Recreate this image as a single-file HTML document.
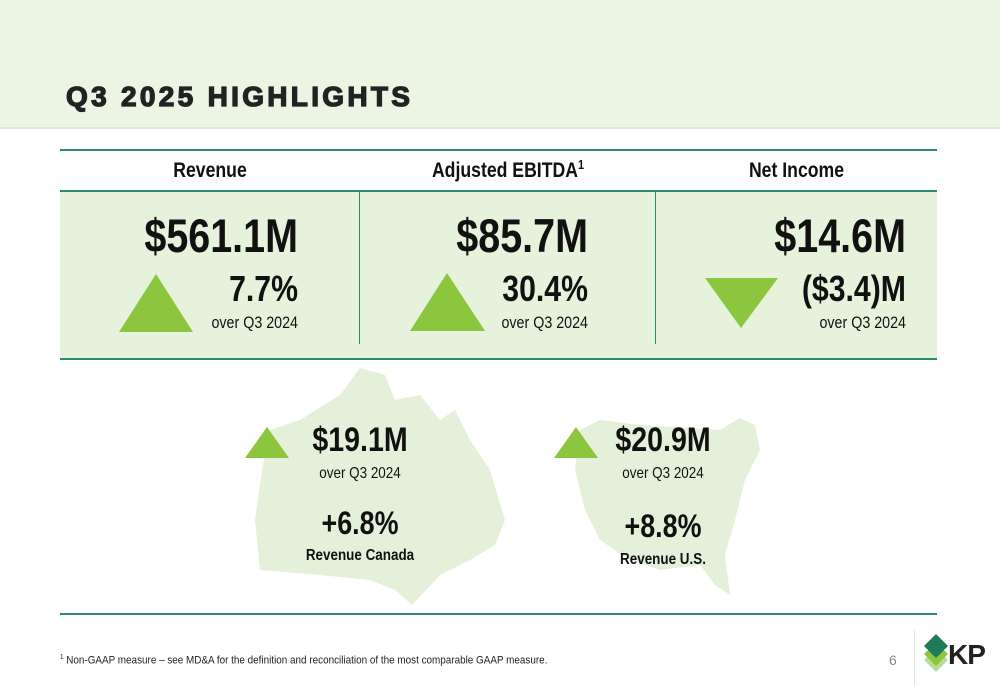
<!DOCTYPE html>
<html><head><meta charset="utf-8"><style>
body{margin:0;width:1000px;height:685px;overflow:hidden;background:#fff;font-family:"Liberation Sans",sans-serif;position:relative}
.a{position:absolute;white-space:nowrap;color:#111}
.b{font-weight:bold}
.r{text-align:right;transform:scaleX(0.84);transform-origin:right center}
.c{text-align:center;transform:scaleX(0.84);transform-origin:center center}
</style></head><body>
<div class="a" style="left:0;top:0;width:1000px;height:127px;background:#ecf5e4;border-bottom:2px solid #dfe8d6"></div>
<div class="a b" style="left:66px;top:81px;font-size:28px;letter-spacing:3.3px;color:#222;-webkit-text-stroke:1.3px #222">Q3 2025 HIGHLIGHTS</div>

<div class="a" style="left:60px;top:149px;width:877px;height:2px;background:#2e8b73"></div>
<div class="a b c" style="left:60px;top:159px;width:300px;font-size:21px">Revenue</div>
<div class="a b c" style="left:360px;top:157px;width:296px;font-size:21px">Adjusted EBITDA<sup style="font-size:13px">1</sup></div>
<div class="a b c" style="left:656px;top:159px;width:281px;font-size:21px">Net Income</div>
<div class="a" style="left:60px;top:190px;width:877px;height:166px;background:#e6f2dc;border-top:2px solid #2e8b73;border-bottom:2px solid #2e8b73"></div>
<div class="a" style="left:359px;top:192px;width:1px;height:152px;background:#2e8b73"></div>
<div class="a" style="left:655px;top:192px;width:1px;height:152px;background:#2e8b73"></div>

<svg class="a" style="left:0;top:0" width="1000" height="685">
<polygon fill="#e4f0da" points="300,420 340,395 360,368 385,375 395,400 420,395 440,420 455,410 470,440 490,470 505,520 495,545 470,560 440,575 412,605 395,590 370,580 320,575 260,570 255,520 262,470 270,430"/>
<polygon fill="#e4f0da" points="580,430 600,420 640,425 690,428 720,430 740,418 755,425 760,450 745,480 735,520 725,555 730,595 715,585 700,565 660,570 630,560 600,540 585,510 575,470"/>
<polygon fill="#8cc63f" points="119,332 193,332 156,274"/>
<polygon fill="#8cc63f" points="410,331 485,331 447,273"/>
<polygon fill="#8cc63f" points="705,278 778,278 741,328"/>
<polygon fill="#8cc63f" points="245,458 289,458 267,427"/>
<polygon fill="#8cc63f" points="554,458 598,458 576,427"/>
<polygon fill="#b7dc9a" points="936,648 948,660 936,672 924,660"/>
<polygon fill="#8cc63f" points="936,642 948,654 936,666 924,654"/>
<polygon fill="#1f7a5a" points="936,634 948,646 936,658 924,646"/>
</svg>

<div class="a b r" style="left:60px;width:238px;top:208px;font-size:47px">$561.1M</div>
<div class="a b r" style="left:60px;width:238px;top:268px;font-size:36px">7.7%</div>
<div class="a r" style="left:60px;width:238px;top:313px;font-size:17px">over Q3 2024</div>

<div class="a b r" style="left:350px;width:238px;top:208px;font-size:47px">$85.7M</div>
<div class="a b r" style="left:350px;width:238px;top:268px;font-size:36px">30.4%</div>
<div class="a r" style="left:350px;width:238px;top:313px;font-size:17px">over Q3 2024</div>

<div class="a b r" style="left:668px;width:238px;top:208px;font-size:47px">$14.6M</div>
<div class="a b r" style="left:668px;width:238px;top:268px;font-size:36px">($3.4)M</div>
<div class="a r" style="left:668px;width:238px;top:313px;font-size:17px">over Q3 2024</div>

<div class="a b c" style="left:260px;width:200px;top:421px;font-size:34px">$19.1M</div>
<div class="a c" style="left:260px;width:200px;top:465px;font-size:16px">over Q3 2024</div>
<div class="a b c" style="left:260px;width:200px;top:505px;font-size:32px">+6.8%</div>
<div class="a b c" style="left:260px;width:200px;top:547px;font-size:16px">Revenue Canada</div>

<div class="a b c" style="left:563px;width:200px;top:421px;font-size:34px">$20.9M</div>
<div class="a c" style="left:563px;width:200px;top:465px;font-size:16px">over Q3 2024</div>
<div class="a b c" style="left:563px;width:200px;top:508px;font-size:32px">+8.8%</div>
<div class="a b c" style="left:563px;width:200px;top:551px;font-size:16px">Revenue U.S.</div>

<div class="a" style="left:60px;top:613px;width:877px;height:2px;background:#2e8b73"></div>
<div class="a" style="left:60px;top:654px;font-size:11px;color:#222;transform:scaleX(0.9);transform-origin:left"><sup style="font-size:7px">1</sup> Non-GAAP measure – see MD&amp;A for the definition and reconciliation of the most comparable GAAP measure.</div>
<div class="a" style="left:889px;top:652px;font-size:14px;color:#888">6</div>
<div class="a" style="left:914px;top:630px;width:1px;height:55px;background:#e0e8d8"></div>
<div class="a b" style="left:948px;top:639px;font-size:28px;color:#222;letter-spacing:-1px">KP</div>
</body></html>
